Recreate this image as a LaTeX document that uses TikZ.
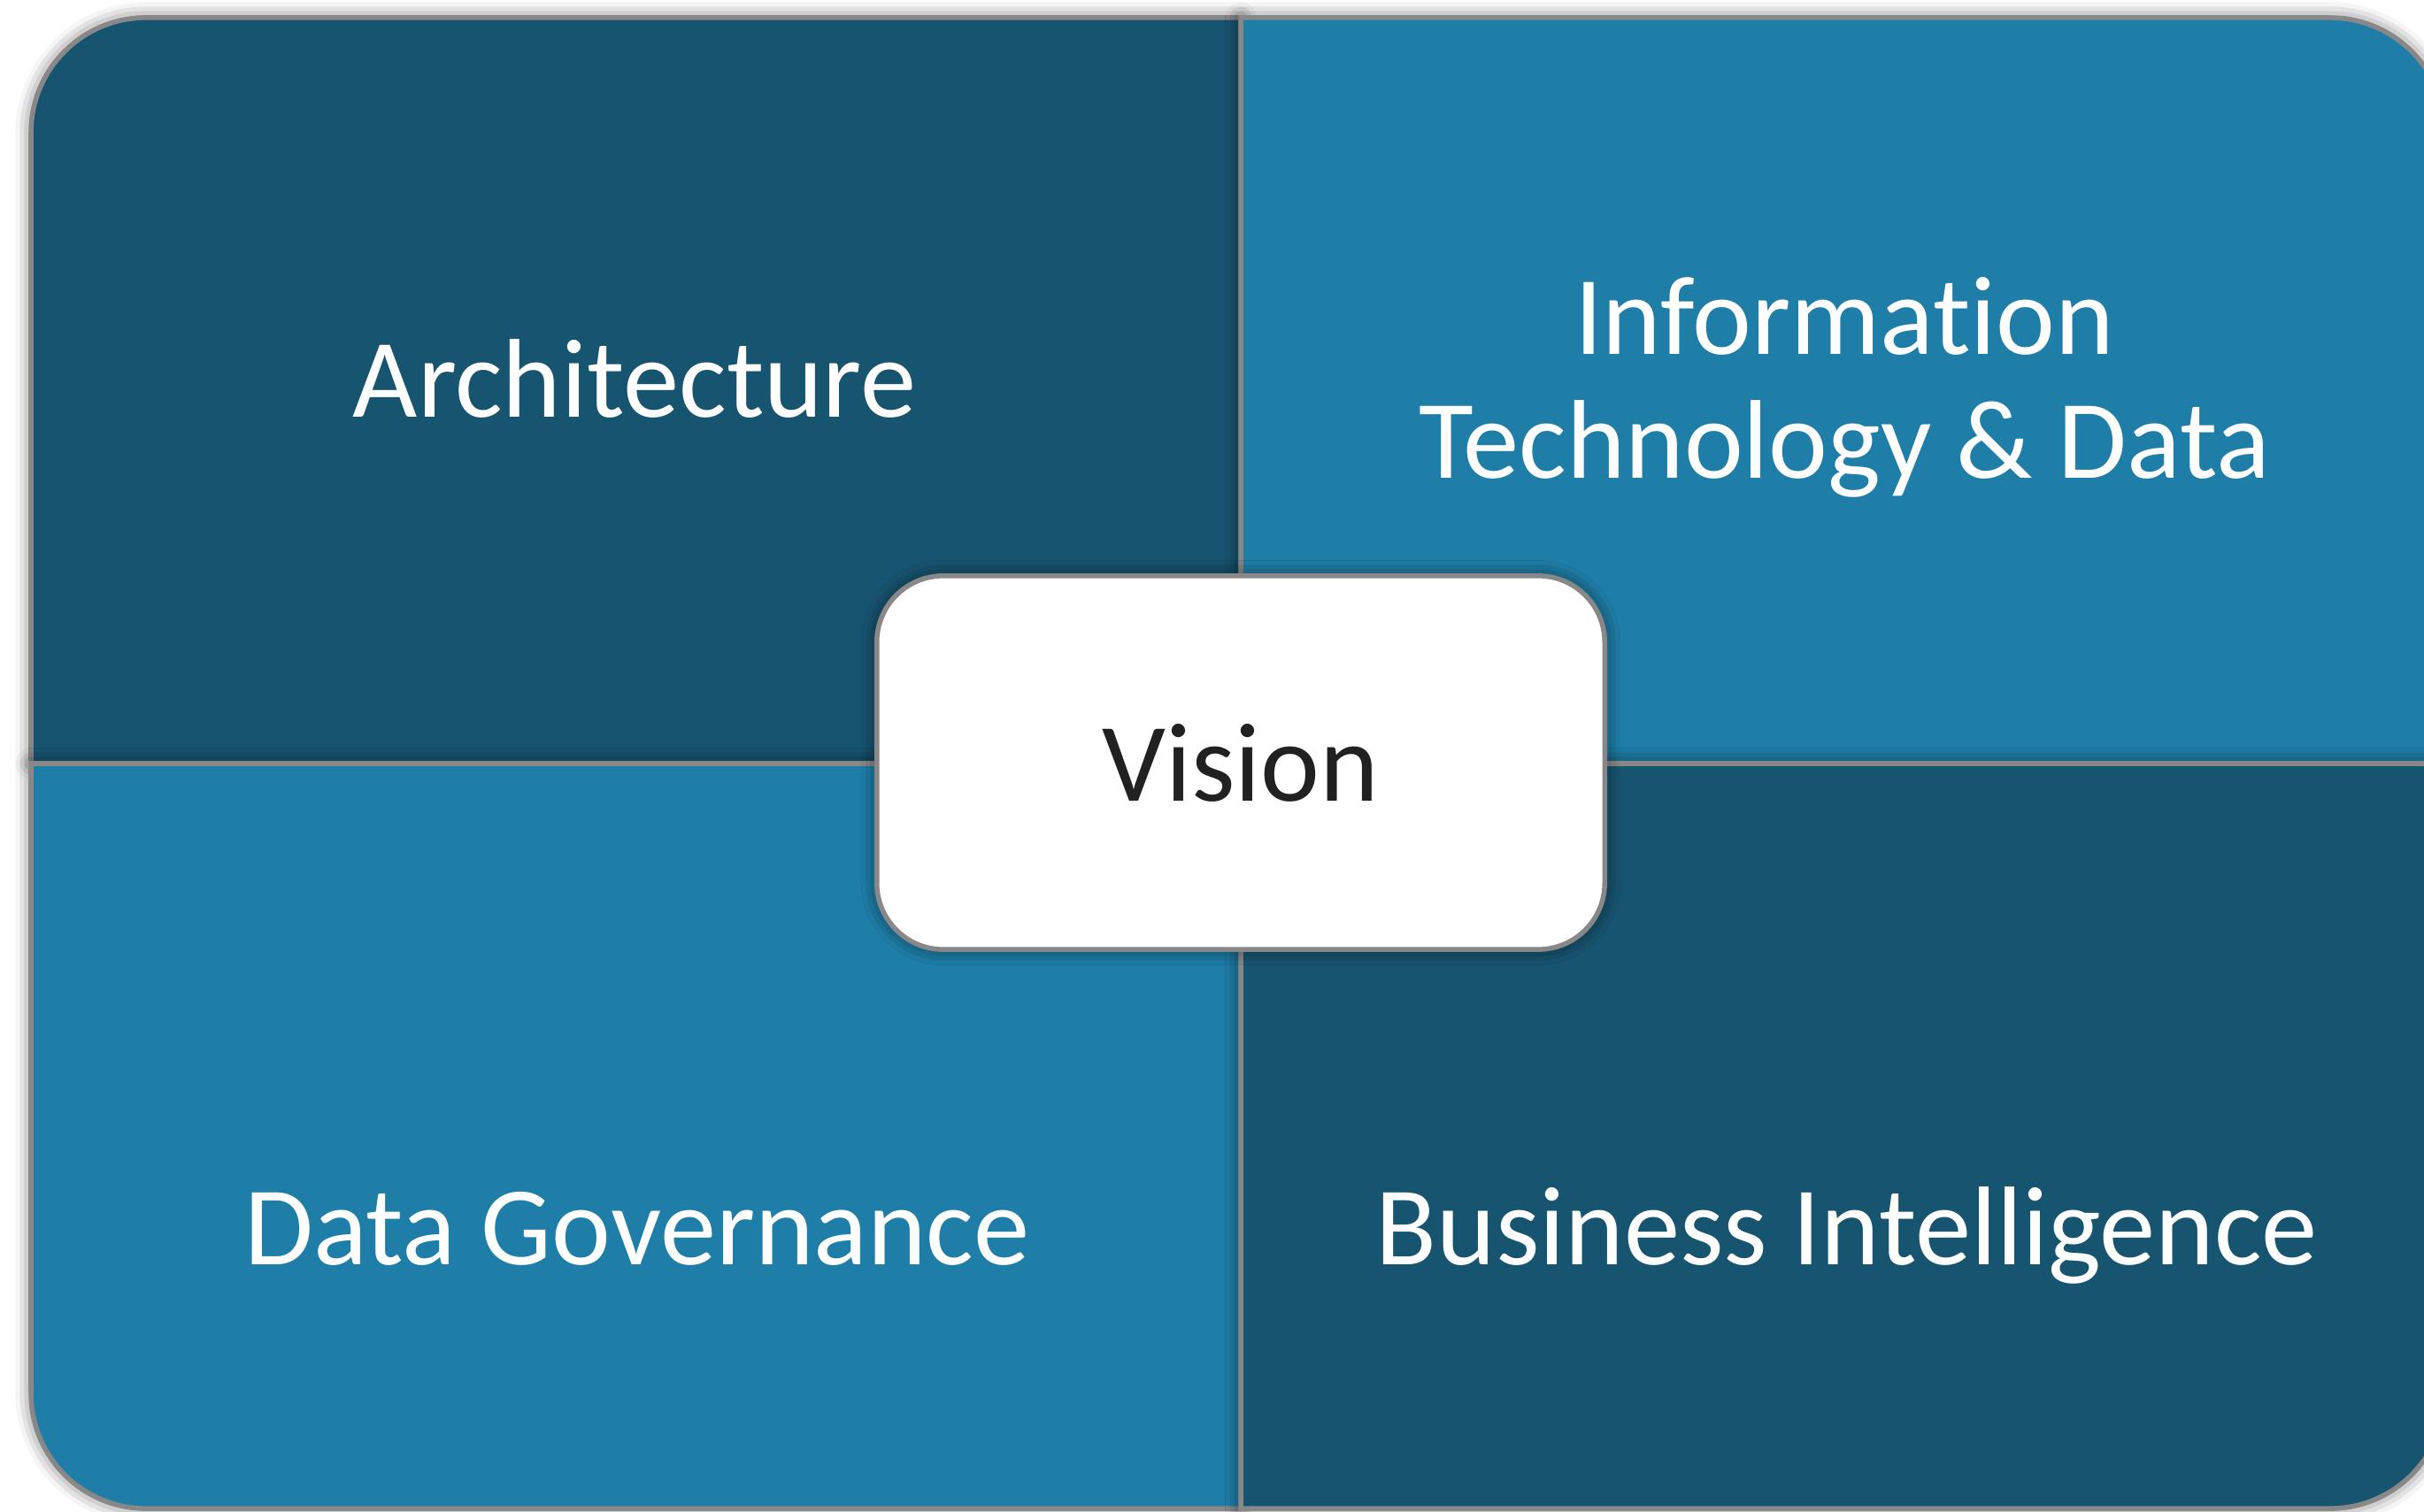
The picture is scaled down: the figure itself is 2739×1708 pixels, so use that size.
\documentclass[tikz,border=0pt]{standalone}
\usepackage{fontspec}
\setmainfont[Ligatures=NoCommon]{Carlito}
\usetikzlibrary{shadows.blur}
\definecolor{deepblue}{RGB}{23,84,112}
\definecolor{midblue}{RGB}{31,126,168}
\definecolor{rimgray}{RGB}{136,136,136}

\begin{document}
\begin{tikzpicture}[x=0.01cm,y=0.01cm,
    quad/.style={draw=rimgray,line width=0.055cm,
      blur shadow={shadow xshift=0pt,shadow yshift=0pt,shadow blur radius=5pt,shadow opacity=60}},
    label/.style={text=white,font=\fontsize{36}{40}\selectfont,align=center},
    visionbox/.style={quad,fill=white,rounded corners=0.75cm,minimum width=8.22cm,minimum height=4.22cm,
      text=black!87,font=\fontsize{36}{40}\selectfont}]
          \useasboundingbox (0,0) rectangle (2739,1708);
          \clip (0,0) rectangle (2739,1708);
          \draw[quad,fill=deepblue] (35,845)--(35,1558) arc[start angle=180,end angle=90,radius=1.3cm]--(1402,1688)--(1402,845)--cycle;
          \draw[quad,fill=midblue] (1402,845)--(1402,1688)--(2633,1688) arc[start angle=90,end angle=0,radius=1.3cm]--(2763,845)--cycle;
          \draw[quad,fill=midblue] (1402,845)--(35,845)--(35,133) arc[start angle=180,end angle=270,radius=1.3cm]--(1402,3)--cycle;
          \draw[quad,fill=deepblue] (1402,845)--(2763,845)--(2763,133) arc[start angle=0,end angle=-90,radius=1.3cm]--(1402,3)--cycle;
          \node[label,anchor=base] (arch) at (717,1236) {Architecture};
          \node[label] (itd) at (2084,1270) {Information\\Technology \& Data};
          \node[label,anchor=base] (gov) at (720,279) {Data Governance};
          \node[label,anchor=base] (bi) at (2087,279) {Business Intelligence};
          \node[visionbox] (vision) at (1402,846) {Vision};
        \end{tikzpicture}
\end{document}
